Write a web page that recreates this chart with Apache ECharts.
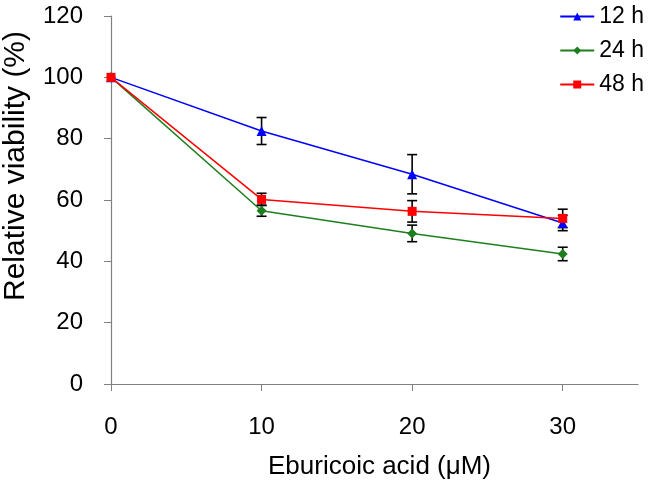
<!DOCTYPE html>
<html><head><meta charset="utf-8">
<script src="https://cdn.jsdelivr.net/npm/echarts@6/dist/echarts.min.js"></script>
<style>html,body{margin:0;padding:0;background:#fff}#c{width:649px;height:480px}</style>
</head><body><div id="c"></div>
<script>
var concentrations = [0, 10, 20, 30];
var seriesNames = ['12 h', '24 h', '48 h'];
var v12 = [100, 82.5, 68.4, 52.5];
var e12 = [0, 4.4, 6.4, 2.5];
var v24 = [100, 56.5, 49.1, 42.4];
var e24 = [0, 1.8, 2.7, 2.2];
var v48 = [100, 60.2, 56.3, 54.0];
var e48 = [0, 2.0, 3.5, 3.0];
var yTicks = [0, 20, 40, 60, 80, 100, 120];
var xTicks = [0, 10, 20, 30];

var colors = ['#0000ff', '#1f7f1f', '#ff0000'];
var symbols = ['triangle', 'diamond', 'rect'];
var symSizes = [10, 10, 9];
var vals = [v12, v24, v48];
var errs = [e12, e24, e48];

function pairs(v) { return concentrations.map(function (x, i) { return [x, v[i]]; }); }
function errData(v, e) { return concentrations.map(function (x, i) { return [x, v[i] - e[i], v[i] + e[i]]; }); }

var series = [];
vals.forEach(function (v, k) {
  series.push({
    type: 'custom', name: seriesNames[k] + ' err', z: 3,
    data: errData(v, errs[k]),
    renderItem: function (params, api) {
      var lo = api.value(1), hi = api.value(2);
      if (hi - lo <= 0) return null;
      var p1 = api.coord([api.value(0), hi]);
      var p2 = api.coord([api.value(0), lo]);
      var hw = 5;
      var st = { stroke: '#000', lineWidth: 1.6 };
      return { type: 'group', children: [
        { type: 'line', shape: { x1: p1[0], y1: p1[1], x2: p2[0], y2: p2[1] }, style: st },
        { type: 'line', shape: { x1: p1[0] - hw, y1: p1[1], x2: p1[0] + hw, y2: p1[1] }, style: st },
        { type: 'line', shape: { x1: p2[0] - hw, y1: p2[1], x2: p2[0] + hw, y2: p2[1] }, style: st }
      ] };
    },
    silent: true
  });
});
vals.forEach(function (v, k) {
  series.push({
    type: 'line', name: seriesNames[k], z: 5 + k,
    data: pairs(v),
    symbol: symbols[k], symbolSize: symSizes[k],
    lineStyle: { color: colors[k], width: 1.5 },
    itemStyle: { color: colors[k] },
    animation: false
  });
});

var chart = echarts.init(document.getElementById('c'));
chart.setOption({
  animation: false,
  textStyle: { fontFamily: 'Liberation Sans, Arial, sans-serif' },
  grid: { left: 111, right: 11, top: 16, bottom: 96, outerBoundsMode: 'none', containLabel: false },
  legend: {
    data: seriesNames, orient: 'vertical', right: 0, top: 0,
    itemWidth: 34, itemHeight: 10, itemGap: 11,
    textStyle: { fontSize: 23, color: '#000', fontFamily: 'Liberation Sans, Arial, sans-serif' }
  },
  xAxis: {
    type: 'value', min: 0, max: 35, interval: 10,
    name: 'Eburicoic acid (\u03bcM)', nameLocation: 'middle', nameGap: 70,
    nameTextStyle: { fontSize: 26, color: '#000', padding: [0, 0, 0, 10] },
    axisLine: { lineStyle: { color: '#808080', width: 1.2 } },
    axisTick: { show: true, length: 7, lineStyle: { color: '#808080' }, customValues: xTicks },
    axisLabel: { fontSize: 24, color: '#000', margin: 31, customValues: xTicks },
    splitLine: { show: false }
  },
  yAxis: {
    type: 'value', min: 0, max: 120, interval: 20,
    name: 'Relative viability (%)', nameLocation: 'middle', nameGap: 80,
    nameTextStyle: { fontSize: 30, color: '#000', padding: [0, 0, 0, 68] },
    axisLine: { show: true, lineStyle: { color: '#808080', width: 1.2 } },
    axisTick: { show: true, length: 7, lineStyle: { color: '#808080' } },
    axisLabel: { fontSize: 24, color: '#000', margin: 28 },
    splitLine: { show: false }
  },
  series: series
});
</script></body></html>
